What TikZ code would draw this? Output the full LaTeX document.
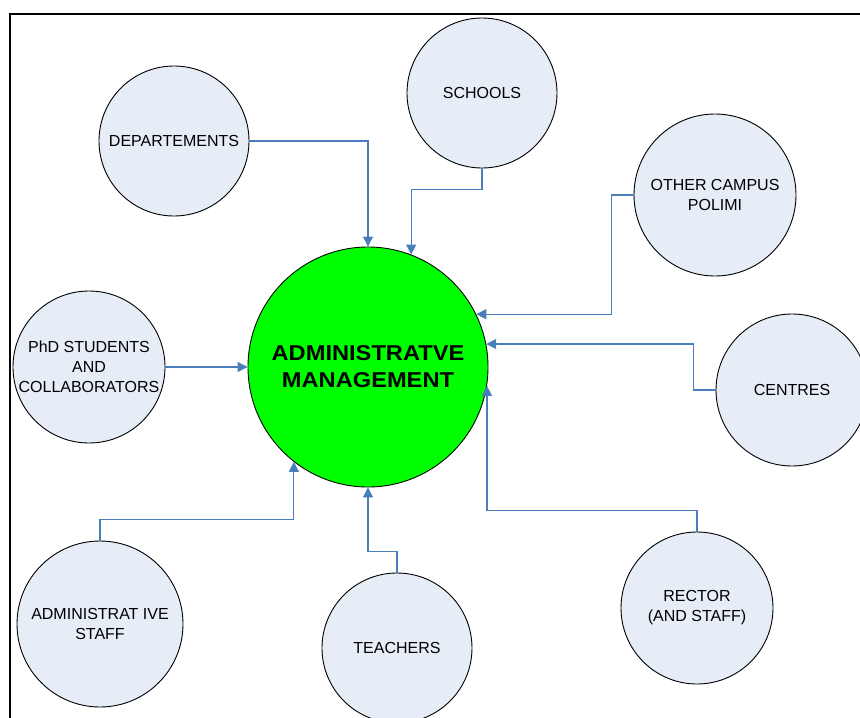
\documentclass[tikz,border=0pt]{standalone}
\usepackage{fontspec}
\setmainfont{Liberation Sans}
\newfontfamily\titlefont[FakeStretch=1.1]{Liberation Sans}
\usetikzlibrary{arrows.meta}
\definecolor{circfill}{RGB}{230,237,247}
\definecolor{linkblue}{RGB}{74,126,187}
\definecolor{maingreen}{RGB}{0,255,0}
\tikzset{
  unit/.style={circle, draw=black, line width=0.9pt, fill=circfill, inner sep=0pt, align=center,
    font=\fontsize{16}{20}\selectfont},
  hub/.style={circle, draw=black, line width=0.9pt, fill=maingreen, inner sep=0pt, align=center,
    minimum size=240pt, font=\titlefont\bfseries\fontsize{21.5}{27}\selectfont},
  link/.style={draw=linkblue, line width=1.2pt, -{Triangle[width=10pt,length=10pt]}},
  frame/.style={draw=black, line width=2pt}
}
\begin{document}
\begin{tikzpicture}[x=1pt,y=-1pt]
\useasboundingbox (0,0) rectangle (860,718);
\draw[frame] (860,14) -- (10,14) -- (10,718);

\node[hub] (main) at (368,367) {ADMINISTRATVE\\MANAGEMENT};

\node[unit, minimum size=150pt] (dep) at (174,141) {DEPARTEMENTS};
\node[unit, minimum size=150pt] (sch) at (482,93) {SCHOOLS};
\node[unit, minimum size=162pt] (oth) at (715,195) {OTHER CAMPUS\\POLIMI};
\node[unit, minimum size=152pt] (phd) at (89,367) {PhD STUDENTS\\AND\\COLLABORATORS};
\node[unit, minimum size=152pt] (cen) at (792,390) {CENTRES};
\node[unit, minimum size=166pt] (adm) at (100,624) {ADMINISTRAT IVE\\STAFF};
\node[unit, minimum size=150pt] (tea) at (397,648) {TEACHERS};
\node[unit, minimum size=152pt] (rec) at (697,608) {RECTOR\\(AND STAFF)};

\draw[link] (dep.east) -| (main.north);
\draw[link] (sch.south) -- ++(0,21) -| (main.69.5);
\draw[link] (oth.west) -- ++(-22,0) |- (main.26.7);
\draw[link] (cen.west) -- ++(-22,0) |- (main.11.05);
\draw[link] (phd.east) -- (main.west);
\draw[link] (rec.north) -- ++(0,-21) -| (main.-9.1);
\draw[link] (tea.north) -- ++(0,-21) -| (main.south);
\draw[link] (adm.north) -- ++(0,-21) -| (main.232.5);
\end{tikzpicture}
\end{document}
